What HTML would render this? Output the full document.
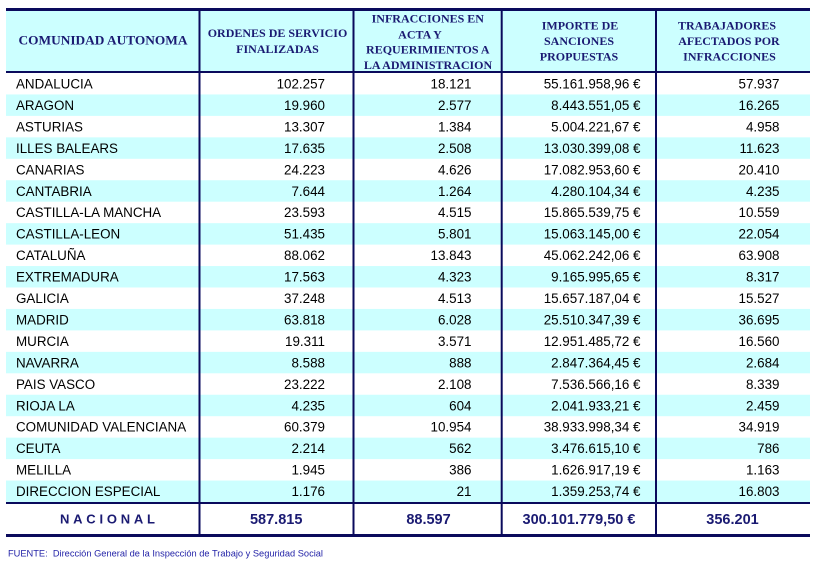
<!DOCTYPE html>
<html>
<head>
<meta charset="utf-8">
<style>
html,body{margin:0;padding:0;background:#fff;}
svg{display:block;}
.h{font-family:"Liberation Serif",serif;font-weight:bold;font-size:12px;fill:#1a1a72;text-anchor:middle;}
.b{font-family:"Liberation Sans",sans-serif;font-size:13.4px;fill:#000;}
.r{text-anchor:end;}
.n{font-family:"Liberation Sans",sans-serif;font-weight:bold;font-size:14.5px;fill:#1a1a72;text-anchor:middle;}
.f{font-family:"Liberation Sans",sans-serif;font-size:9px;fill:#2424a8;white-space:pre;}
</style>
</head>
<body>
<svg width="818" height="566" viewBox="0 0 818 566" xmlns="http://www.w3.org/2000/svg">
<rect x="0" y="0" width="818" height="566" fill="#fff"/>
<rect x="6" y="10" width="804" height="62" fill="#ccffff"/>
<g fill="#ccffff">
<rect x="6" y="94.45" width="804" height="21.45"/>
<rect x="6" y="137.35" width="804" height="21.45"/>
<rect x="6" y="180.25" width="804" height="21.45"/>
<rect x="6" y="223.15" width="804" height="21.45"/>
<rect x="6" y="266.05" width="804" height="21.45"/>
<rect x="6" y="308.95" width="804" height="21.45"/>
<rect x="6" y="351.85" width="804" height="21.45"/>
<rect x="6" y="394.75" width="804" height="21.45"/>
<rect x="6" y="437.65" width="804" height="21.45"/>
<rect x="6" y="480.55" width="804" height="21.45"/>
</g>
<g fill="#0a0a5c">
<rect x="6" y="8" width="804" height="3"/>
<rect x="6" y="71" width="804" height="2"/>
<rect x="6" y="502" width="804" height="2"/>
<rect x="6" y="534" width="804" height="3"/>
<rect x="198.5" y="8" width="2" height="529"/>
<rect x="352.5" y="8" width="2" height="529"/>
<rect x="500.7" y="8" width="2" height="529"/>
<rect x="655" y="8" width="2" height="529"/>
</g>
<text class="h" x="103" y="44.5" style="font-size:12.5px" textLength="169" lengthAdjust="spacingAndGlyphs">COMUNIDAD AUTONOMA</text>
<text class="h" x="277.5" y="37">ORDENES DE SERVICIO</text>
<text class="h" x="277.5" y="53">FINALIZADAS</text>
<text class="h" x="427.8" y="22.7">INFRACCIONES EN</text>
<text class="h" x="420" y="38.3">ACTA Y</text>
<text class="h" x="427.8" y="53.5">REQUERIMIENTOS A</text>
<text class="h" x="428" y="69">LA ADMINISTRACION</text>
<text class="h" x="580" y="29.3">IMPORTE DE</text>
<text class="h" x="579" y="45">SANCIONES</text>
<text class="h" x="579" y="60.3">PROPUESTAS</text>
<text class="h" x="727" y="29.3">TRABAJADORES</text>
<text class="h" x="729" y="45">AFECTADOS POR</text>
<text class="h" x="729.5" y="60.3">INFRACCIONES</text>
<g class="b">
<g transform="translate(0,88.5)"><text x="16" y="0">ANDALUCIA</text><text class="r" x="325" y="0">102.257</text><text class="r" x="471.5" y="0">18.121</text><text class="r" x="640.5" y="0">55.161.958,96 €</text><text class="r" x="779.5" y="0">57.937</text></g>
<g transform="translate(0,109.95)"><text x="16" y="0">ARAGON</text><text class="r" x="325" y="0">19.960</text><text class="r" x="471.5" y="0">2.577</text><text class="r" x="640.5" y="0">8.443.551,05 €</text><text class="r" x="779.5" y="0">16.265</text></g>
<g transform="translate(0,131.4)"><text x="16" y="0">ASTURIAS</text><text class="r" x="325" y="0">13.307</text><text class="r" x="471.5" y="0">1.384</text><text class="r" x="640.5" y="0">5.004.221,67 €</text><text class="r" x="779.5" y="0">4.958</text></g>
<g transform="translate(0,152.85)"><text x="16" y="0">ILLES BALEARS</text><text class="r" x="325" y="0">17.635</text><text class="r" x="471.5" y="0">2.508</text><text class="r" x="640.5" y="0">13.030.399,08 €</text><text class="r" x="779.5" y="0">11.623</text></g>
<g transform="translate(0,174.3)"><text x="16" y="0">CANARIAS</text><text class="r" x="325" y="0">24.223</text><text class="r" x="471.5" y="0">4.626</text><text class="r" x="640.5" y="0">17.082.953,60 €</text><text class="r" x="779.5" y="0">20.410</text></g>
<g transform="translate(0,195.75)"><text x="16" y="0">CANTABRIA</text><text class="r" x="325" y="0">7.644</text><text class="r" x="471.5" y="0">1.264</text><text class="r" x="640.5" y="0">4.280.104,34 €</text><text class="r" x="779.5" y="0">4.235</text></g>
<g transform="translate(0,217.2)"><text x="16" y="0">CASTILLA-LA MANCHA</text><text class="r" x="325" y="0">23.593</text><text class="r" x="471.5" y="0">4.515</text><text class="r" x="640.5" y="0">15.865.539,75 €</text><text class="r" x="779.5" y="0">10.559</text></g>
<g transform="translate(0,238.65)"><text x="16" y="0">CASTILLA-LEON</text><text class="r" x="325" y="0">51.435</text><text class="r" x="471.5" y="0">5.801</text><text class="r" x="640.5" y="0">15.063.145,00 €</text><text class="r" x="779.5" y="0">22.054</text></g>
<g transform="translate(0,260.1)"><text x="16" y="0">CATALUÑA</text><text class="r" x="325" y="0">88.062</text><text class="r" x="471.5" y="0">13.843</text><text class="r" x="640.5" y="0">45.062.242,06 €</text><text class="r" x="779.5" y="0">63.908</text></g>
<g transform="translate(0,281.55)"><text x="16" y="0">EXTREMADURA</text><text class="r" x="325" y="0">17.563</text><text class="r" x="471.5" y="0">4.323</text><text class="r" x="640.5" y="0">9.165.995,65 €</text><text class="r" x="779.5" y="0">8.317</text></g>
<g transform="translate(0,303)"><text x="16" y="0">GALICIA</text><text class="r" x="325" y="0">37.248</text><text class="r" x="471.5" y="0">4.513</text><text class="r" x="640.5" y="0">15.657.187,04 €</text><text class="r" x="779.5" y="0">15.527</text></g>
<g transform="translate(0,324.45)"><text x="16" y="0">MADRID</text><text class="r" x="325" y="0">63.818</text><text class="r" x="471.5" y="0">6.028</text><text class="r" x="640.5" y="0">25.510.347,39 €</text><text class="r" x="779.5" y="0">36.695</text></g>
<g transform="translate(0,345.9)"><text x="16" y="0">MURCIA</text><text class="r" x="325" y="0">19.311</text><text class="r" x="471.5" y="0">3.571</text><text class="r" x="640.5" y="0">12.951.485,72 €</text><text class="r" x="779.5" y="0">16.560</text></g>
<g transform="translate(0,367.35)"><text x="16" y="0">NAVARRA</text><text class="r" x="325" y="0">8.588</text><text class="r" x="471.5" y="0">888</text><text class="r" x="640.5" y="0">2.847.364,45 €</text><text class="r" x="779.5" y="0">2.684</text></g>
<g transform="translate(0,388.8)"><text x="16" y="0">PAIS VASCO</text><text class="r" x="325" y="0">23.222</text><text class="r" x="471.5" y="0">2.108</text><text class="r" x="640.5" y="0">7.536.566,16 €</text><text class="r" x="779.5" y="0">8.339</text></g>
<g transform="translate(0,410.25)"><text x="16" y="0">RIOJA LA</text><text class="r" x="325" y="0">4.235</text><text class="r" x="471.5" y="0">604</text><text class="r" x="640.5" y="0">2.041.933,21 €</text><text class="r" x="779.5" y="0">2.459</text></g>
<g transform="translate(0,431.7)"><text x="16" y="0">COMUNIDAD VALENCIANA</text><text class="r" x="325" y="0">60.379</text><text class="r" x="471.5" y="0">10.954</text><text class="r" x="640.5" y="0">38.933.998,34 €</text><text class="r" x="779.5" y="0">34.919</text></g>
<g transform="translate(0,453.15)"><text x="16" y="0">CEUTA</text><text class="r" x="325" y="0">2.214</text><text class="r" x="471.5" y="0">562</text><text class="r" x="640.5" y="0">3.476.615,10 €</text><text class="r" x="779.5" y="0">786</text></g>
<g transform="translate(0,474.6)"><text x="16" y="0">MELILLA</text><text class="r" x="325" y="0">1.945</text><text class="r" x="471.5" y="0">386</text><text class="r" x="640.5" y="0">1.626.917,19 €</text><text class="r" x="779.5" y="0">1.163</text></g>
<g transform="translate(0,496.05)"><text x="16" y="0">DIRECCION ESPECIAL</text><text class="r" x="325" y="0">1.176</text><text class="r" x="471.5" y="0">21</text><text class="r" x="640.5" y="0">1.359.253,74 €</text><text class="r" x="779.5" y="0">16.803</text></g>
</g>
<text class="n" x="107.5" y="523.5" style="font-size:13px" textLength="95" lengthAdjust="spacing">NACIONAL</text>
<text class="n" x="276.2" y="524">587.815</text>
<text class="n" x="428.5" y="524">88.597</text>
<text class="n" x="579" y="524">300.101.779,50 €</text>
<text class="n" x="732.5" y="524">356.201</text>
<text class="f" x="8" y="556.5" textLength="315" lengthAdjust="spacingAndGlyphs">FUENTE:  Dirección General de la Inspección de Trabajo y Seguridad Social</text>
</svg>
</body>
</html>
